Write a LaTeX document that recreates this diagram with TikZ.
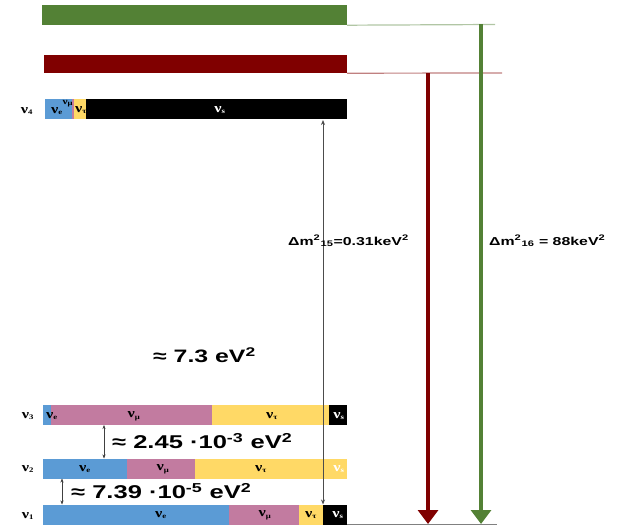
\documentclass[tikz,border=0pt]{standalone}
\usepackage{graphicx}
\usepackage{fontspec}
\setmainfont{Liberation Serif}
\newfontfamily\arial{Liberation Sans}
\usetikzlibrary{arrows.meta}
\definecolor{nblue}{HTML}{5B9BD5}
\definecolor{npink}{HTML}{C27BA0}
\definecolor{nyellow}{HTML}{FFD966}
\definecolor{ngreen}{HTML}{538135}
\definecolor{nred}{HTML}{800000}
\newcommand{\nuu}[1]{\scalebox{1.25}[1]{\textbf{ν}\textsubscript{\scriptsize\bfseries #1}}}
\newcommand{\hs}[1]{\scalebox{1.38}[1]{#1}}
\tikzset{
  seg/.style={inner sep=0pt, minimum height=20pt, anchor=center, font=\fontsize{13}{13}\selectfont},
  lvl/.style={inner sep=0pt, font=\fontsize{13}{13}\selectfont},
  big/.style={inner sep=0pt, anchor=west, font=\arial\bfseries\fontsize{18.5}{18.5}\selectfont},
  dm/.style={inner sep=0pt, anchor=west, font=\arial\bfseries\fontsize{11.5}{11.5}\selectfont},
  gap/.style={thin, black!75, {Stealth[length=4pt,width=3pt]}-{Stealth[length=4pt,width=3pt]}},
  heavy/.style={line width=3.2pt, -{Triangle[width=20pt,length=14pt]}},
}
\begin{document}
\begin{tikzpicture}[x=1pt,y=-1pt]
\useasboundingbox (0,0) rectangle (623,529);
% heavy states
\node[seg, fill=ngreen, minimum width=305pt, minimum height=20pt] (g) at (194.5,15) {};
\node[seg, fill=nred, minimum width=303pt, minimum height=18pt] (r) at (195.5,64) {};
\coordinate (gend) at (495,24.5);
\coordinate (rend) at (502,73);
\draw[ngreen!45, line width=1.2pt] (g.south east) -- (gend);
\draw[nred!50, line width=1.2pt] (r.south east) -- (rend);
% nu4
\node[seg, fill=nblue, minimum width=27pt] (a4e) at (58.5,109.5) {};
\node[seg, fill=npink, minimum width=2pt] (a4m) at (73,109.5) {};
\node[seg, fill=nyellow, minimum width=12pt] (a4t) at (80,109.5) {};
\node[seg, fill=black, minimum width=261pt] (a4s) at (216.5,109.5) {};
\node[lvl] at (57,111) {\nuu{e}};
\node[lvl, font=\fontsize{9}{9}\selectfont] at (68,104) {\nuu{μ}};
\node[lvl] at (81,110) {\nuu{τ}};
\node[lvl, text=white] at (220,110) {\nuu{s}};
\node[lvl] (l4) at (27,111) {\nuu{4}};
% nu3
\node[seg, fill=nblue, minimum width=8pt] (a3e) at (47,415) {};
\node[seg, fill=npink, minimum width=161pt] (a3m) at (131.5,415) {};
\node[seg, fill=nyellow, minimum width=117pt] (a3t) at (270.5,415) {};
\node[seg, fill=black, minimum width=18pt] (a3s) at (338,415) {};
\node[lvl] at (52,416) {\nuu{e}};
\node[lvl] at (134,416) {\nuu{μ}};
\node[lvl] at (272,416) {\nuu{τ}};
\node[lvl, text=white] at (339,416) {\nuu{s}};
\node[lvl] (l3) at (28,416) {\nuu{3}};
% nu2
\node[seg, fill=nblue, minimum width=84pt] (a2e) at (85,468.5) {};
\node[seg, fill=npink, minimum width=68pt] (a2m) at (161,468.5) {};
\node[seg, fill=nyellow, minimum width=152pt] (a2t) at (271,468.5) {};
\node[lvl] at (85,469) {\nuu{e}};
\node[lvl] at (163,469) {\nuu{μ}};
\node[lvl] at (261,469) {\nuu{τ}};
\node[lvl, text=white] at (339,469) {\nuu{s}};
\node[lvl] (l2) at (28,469) {\nuu{2}};
% nu1
\node[seg, fill=nblue, minimum width=186pt] (a1e) at (136,514.5) {};
\node[seg, fill=npink, minimum width=70pt] (a1m) at (264,514.5) {};
\node[seg, fill=nyellow, minimum width=24pt] (a1t) at (311,514.5) {};
\node[seg, fill=black, minimum width=24pt] (a1s) at (335,514.5) {};
\node[lvl] at (161,515) {\nuu{e}};
\node[lvl] at (265,515) {\nuu{μ}};
\node[lvl] at (311,515) {\nuu{τ}};
\node[lvl, text=white] at (338,515) {\nuu{s}};
\node[lvl] (l1) at (28,516) {\nuu{1}};
% gray arrow nu4 -> nu1
\coordinate (gt) at (323,120);
\coordinate (gb) at (323,504.5);
\draw[black!70, line width=1pt, {Stealth[length=5pt,width=4pt]}-{Stealth[length=5pt,width=4pt]}] (gt) -- (gb);
% baseline
\coordinate (bl0) at (347,524.5);
\coordinate (bl1) at (497,524.5);
\draw[black!50, line width=1pt] (bl0) -- (bl1);
% heavy arrows
\coordinate (rtop) at (428,73);
\coordinate (rb) at (428,524);
\coordinate (gtt) at (481,24.5);
\coordinate (gbb) at (481,524);
\draw[heavy, nred] (rtop) -- (rb);
\draw[heavy, ngreen] (gtt) -- (gbb);
% small gaps
\draw[gap] (104,425) -- (104,458.5);
\draw[gap] (62,478.5) -- (62,504.5);
% labels
\node[big] (t1) at (112,441) {\hs{≈ 2.45 ·10\textsuperscript{-3} eV\textsuperscript{2}}};
\node[big] (t2) at (71,491) {\hs{≈ 7.39 ·10\textsuperscript{-5} eV\textsuperscript{2}}};
\node[big, font=\arial\bfseries\fontsize{18}{18}\selectfont] (t3) at (153,355) {\hs{≈ 7.3 eV\textsuperscript{2}}};
\node[dm] (d1) at (288,241) {\hs{Δm\textsuperscript{2}\textsubscript{15}=0.31keV\textsuperscript{2}}};
\node[dm] (d2) at (489,241) {\hs{Δm\textsuperscript{2}\textsubscript{16} = 88keV\textsuperscript{2}}};
\end{tikzpicture}
\end{document}
